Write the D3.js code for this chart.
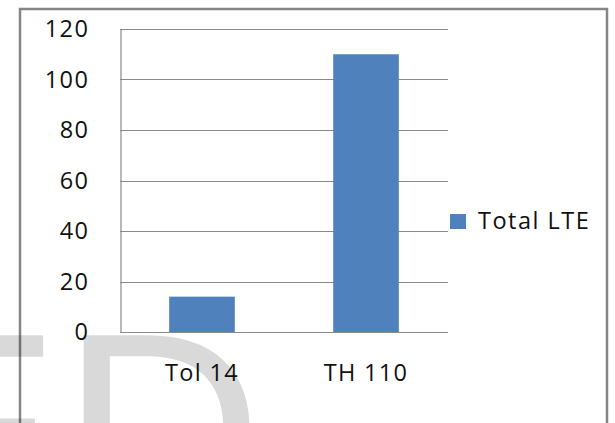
<!DOCTYPE html>
<html><head><meta charset="utf-8">
<script src="https://cdn.jsdelivr.net/npm/d3@7"></script>
<style>body{margin:0;background:#fff;}svg{display:block;}</style>
</head><body>
<svg id="c" width="615" height="423"></svg>
<script>
const categories = ["Tol 14", "TH 110"];
const values = [14, 110];
const seriesName = "Total LTE";
const yTicks = [0, 20, 40, 60, 80, 100, 120];

const svg = d3.select("#c");
const font = "'Open Sans', sans-serif";
const plot = {left: 120, right: 448, top: 29, bottom: 332};

// outer frame
svg.append("rect").attr("x", 20).attr("y", 9).attr("width", 587).attr("height", 440)
  .attr("fill", "none").attr("stroke", "#858585").attr("stroke-width", 2.5);

const x = d3.scaleBand().domain(categories).range([plot.left, plot.right])
  .paddingInner(0.6).paddingOuter(0.3);
const y = d3.scaleLinear().domain([0, 120]).range([plot.bottom, plot.top]);

// gridlines
svg.append("g").selectAll("line").data(yTicks).join("line")
  .attr("x1", plot.left).attr("x2", plot.right)
  .attr("y1", d => Math.round(y(d)) + 0.5).attr("y2", d => Math.round(y(d)) + 0.5)
  .attr("stroke", "#8a8a8a").attr("stroke-width", 1.2);

// y axis
const yAxis = svg.append("g").attr("transform", `translate(${plot.left + 0.5},0)`)
  .call(d3.axisLeft(y).tickValues(yTicks).tickSize(0).tickPadding(31));
yAxis.select(".domain").attr("stroke", "#8a8a8a").attr("stroke-width", 1.2);
yAxis.selectAll("text").attr("font-family", font).attr("font-size", 23.5)
  .attr("letter-spacing", 1.5).attr("fill", "#111");

// x axis labels
const xAxis = svg.append("g").attr("transform", `translate(0,${plot.bottom})`)
  .call(d3.axisBottom(x).tickSize(0).tickPadding(32));
xAxis.select(".domain").remove();
xAxis.selectAll("text").attr("font-family", font).attr("font-size", 23.5)
  .attr("letter-spacing", 1.3).attr("fill", "#111");

// bars
svg.append("g").selectAll("rect").data(values).join("rect")
  .attr("x", (d, i) => x(categories[i])).attr("width", x.bandwidth())
  .attr("y", d => y(d)).attr("height", d => y(0) - y(d))
  .attr("fill", "#4f81bd");

// legend
const lg = svg.append("g");
lg.append("rect").attr("x", 450).attr("y", 214).attr("width", 16).attr("height", 15).attr("fill", "#4f81bd");
lg.append("text").attr("x", 478).attr("y", 229).text(seriesName)
  .attr("font-family", font).attr("font-size", 23.5).attr("letter-spacing", 1.5).attr("fill", "#111");

// watermark overlay
svg.append("text").attr("x", -126).attr("y", 528).text("ED")
  .attr("font-family", "'Liberation Sans', Arial, sans-serif").attr("font-size", 280)
  .attr("fill", "#000").attr("fill-opacity", 0.15);
</script>
</body></html>
